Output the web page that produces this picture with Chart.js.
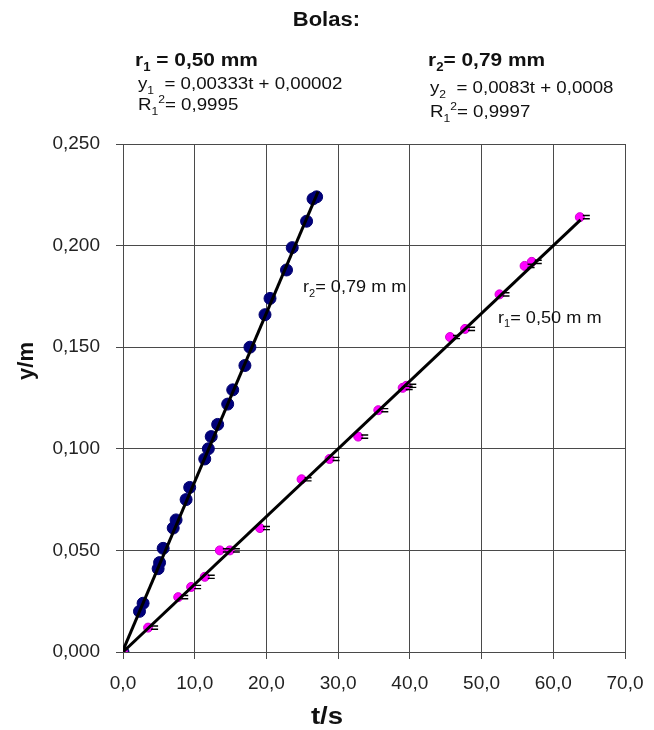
<!DOCTYPE html>
<html>
<head>
<meta charset="utf-8">
<script src="https://cdn.jsdelivr.net/npm/chart.js@4.4.0/dist/chart.umd.min.js"></script>
<style>
  html, body { margin: 0; padding: 0; background: #fff; }
  #box { width: 654px; height: 730px; }
</style>
</head>
<body>
<div id="box"><canvas id="bolas"></canvas></div>
<script>
// bola r2 = 0,79 mm (pontos azuis)
const tempoAzul = [0, 2.3, 2.8, 4.9, 5.1, 5.6, 7.0, 7.4, 8.8, 9.3, 11.4, 11.9, 12.3, 13.2, 14.6, 15.3, 17.0, 17.7, 19.8, 20.5, 22.8, 23.6, 25.6, 26.5, 27.0];
const yAzul = [0, 0.020, 0.024, 0.041, 0.044, 0.051, 0.061, 0.065, 0.075, 0.081, 0.095, 0.100, 0.106, 0.112, 0.122, 0.129, 0.141, 0.150, 0.166, 0.174, 0.188, 0.199, 0.212, 0.223, 0.224];

// bola r1 = 0,50 mm (pontos rosa)
const tempoRosa = [0, 3.5, 7.7, 9.5, 11.4, 13.5, 14.9, 19.1, 24.9, 28.8, 32.8, 35.6, 39.0, 39.5, 45.6, 47.7, 52.5, 56.0, 57.0, 63.7];
const yRosa = [0, 0.012, 0.027, 0.032, 0.037, 0.050, 0.050, 0.061, 0.085, 0.095, 0.106, 0.119, 0.130, 0.131, 0.155, 0.159, 0.176, 0.190, 0.192, 0.214];

// retas de ajuste (extremos)
const retaAzulT = [0, 27.2];
const retaAzulY = [0.0008, 0.2266];
const retaRosaT = [0, 63.8];
const retaRosaY = [0.00002, 0.2127];

const xTickLabels = ["0,0", "10,0", "20,0", "30,0", "40,0", "50,0", "60,0", "70,0"];
const yTickLabels = ["0,000", "0,050", "0,100", "0,150", "0,200", "0,250"];

const FONTE = '"Liberation Sans", Arial, sans-serif';
const ESTICA = 1.1; // o texto do original e um pouco mais largo

function pares(xs, ys) {
  return xs.map((x, i) => ({ x: x, y: ys[i] }));
}

// texto com indices / expoentes
function textoRico(ctx, x, y, partes, size, bold) {
  ctx.save();
  ctx.translate(x, y);
  ctx.scale(ESTICA, 1);
  let cx = 0;
  for (const [txt, tipo] of partes) {
    const s = tipo ? Math.round(size * 0.62) : size;
    const dy = tipo === "sub" ? size * 0.28 : tipo === "sup" ? -size * 0.42 : 0;
    ctx.font = (bold ? "bold " : "") + s + "px " + FONTE;
    ctx.fillText(txt, cx, dy);
    cx += ctx.measureText(txt).width;
  }
  ctx.restore();
}

const textos = {
  id: "textos",
  afterDraw(chart) {
    const ctx = chart.ctx;
    const xs = chart.scales.x, ys = chart.scales.y;
    ctx.save();
    ctx.fillStyle = "#111";
    ctx.textBaseline = "alphabetic";
    ctx.textAlign = "left";

    // titulo
    ctx.font = "bold 20px " + FONTE;
    const wt = ctx.measureText("Bolas:").width * 1.12;
    textoRico(ctx, 327 - wt / 2, 26, [["Bolas:", null]], 20, true);

    textoRico(ctx, 135, 66, [["r", null], ["1", "sub"], [" = 0,50 mm", null]], 19, true);
    textoRico(ctx, 138, 89, [["y", null], ["1", "sub"], ["  = 0,00333t + 0,00002", null]], 17, false);
    textoRico(ctx, 138, 110, [["R", null], ["1", "sub"], ["2", "sup"], ["= 0,9995", null]], 17, false);

    textoRico(ctx, 428, 66, [["r", null], ["2", "sub"], ["= 0,79 mm", null]], 19, true);
    textoRico(ctx, 430, 93, [["y", null], ["2", "sub"], ["  = 0,0083t + 0,0008", null]], 17, false);
    textoRico(ctx, 430, 117, [["R", null], ["1", "sub"], ["2", "sup"], ["= 0,9997", null]], 17, false);

    // rotulos dentro do grafico
    textoRico(ctx, xs.getPixelForValue(25.1), ys.getPixelForValue(0.177),
      [["r", null], ["2", "sub"], ["= 0,79 m m", null]], 16.5, false);
    textoRico(ctx, xs.getPixelForValue(52.3), ys.getPixelForValue(0.162),
      [["r", null], ["1", "sub"], ["= 0,50 m m", null]], 16.5, false);

    // titulos dos eixos
    ctx.font = "bold 24px " + FONTE;
    const ws = ctx.measureText("t/s").width * 1.15;
    ctx.save();
    ctx.translate(327 - ws / 2, 724);
    ctx.scale(1.15, 1);
    ctx.fillText("t/s", 0, 0);
    ctx.restore();

    ctx.textAlign = "center";
    ctx.font = "bold 22px " + FONTE;
    ctx.translate(33, 361);
    ctx.rotate(-Math.PI / 2);
    ctx.fillText("y/m", 0, 0);
    ctx.restore();
  }
};

// pequenas barras de erro horizontais nos pontos rosa
const barrasErro = {
  id: "barrasErro",
  afterDatasetsDraw(chart) {
    const meta = chart.getDatasetMeta(3);
    const ctx = chart.ctx;
    ctx.save();
    ctx.strokeStyle = "#000";
    ctx.lineWidth = 1.4;
    meta.data.forEach((p, i) => {
      if (i === 0) return;
      ctx.beginPath();
      ctx.moveTo(p.x + 3, p.y - 1.6);
      ctx.lineTo(p.x + 10, p.y - 1.6);
      ctx.moveTo(p.x + 3, p.y + 1.6);
      ctx.lineTo(p.x + 10, p.y + 1.6);
      ctx.stroke();
    });
    ctx.restore();
  }
};

const corGrade = "#4a4a4a";

new Chart(document.getElementById("bolas").getContext("2d"), {
  type: "scatter",
  data: {
    datasets: [
      {
        label: "ajuste r2",
        data: pares(retaAzulT, retaAzulY),
        showLine: true,
        borderColor: "#000",
        borderWidth: 3,
        pointRadius: 0,
        order: 0,
      },
      {
        label: "ajuste r1",
        data: pares(retaRosaT, retaRosaY),
        showLine: true,
        borderColor: "#000",
        borderWidth: 3,
        pointRadius: 0,
        order: 0,
      },
      {
        label: "r2 = 0,79 mm",
        data: pares(tempoAzul, yAzul),
        backgroundColor: "#00007a",
        borderColor: "#000070",
        borderWidth: 1,
        pointRadius: 6,
        order: 2,
      },
      {
        label: "r1 = 0,50 mm",
        data: pares(tempoRosa, yRosa),
        backgroundColor: "#ff00ff",
        borderColor: "#d000d0",
        borderWidth: 1,
        pointRadius: 4.5,
        order: 1,
      },
    ],
  },
  options: {
    responsive: true,
    maintainAspectRatio: false,
    animation: false,
    layout: {
      padding: { top: 144, right: 29, left: 0, bottom: 0 },
    },
    plugins: {
      legend: { display: false },
      tooltip: { enabled: false },
      title: { display: false },
    },
    scales: {
      x: {
        type: "linear",
        min: 0,
        max: 70,
        ticks: {
          stepSize: 10,
          padding: 13,
          color: "#222",
          font: { family: FONTE, size: 19 },
          callback: (v, i) => xTickLabels[i],
        },
        grid: { color: corGrade, lineWidth: 1, tickLength: 7 },
        border: { color: corGrade },
        afterFit(scale) {
          scale.height = 78;
          scale.paddingLeft = 0;
          scale.paddingRight = 0;
        },
      },
      y: {
        min: 0,
        max: 0.25,
        ticks: {
          stepSize: 0.05,
          padding: 16,
          color: "#222",
          font: { family: FONTE, size: 19 },
          callback: (v, i) => yTickLabels[i],
        },
        grid: { color: corGrade, lineWidth: 1, tickLength: 7 },
        border: { color: corGrade },
        afterFit(scale) {
          scale.width = 123;
          scale.paddingTop = 0;
          scale.paddingBottom = 0;
        },
      },
    },
  },
  plugins: [textos, barrasErro],
});
</script>
</body>
</html>
